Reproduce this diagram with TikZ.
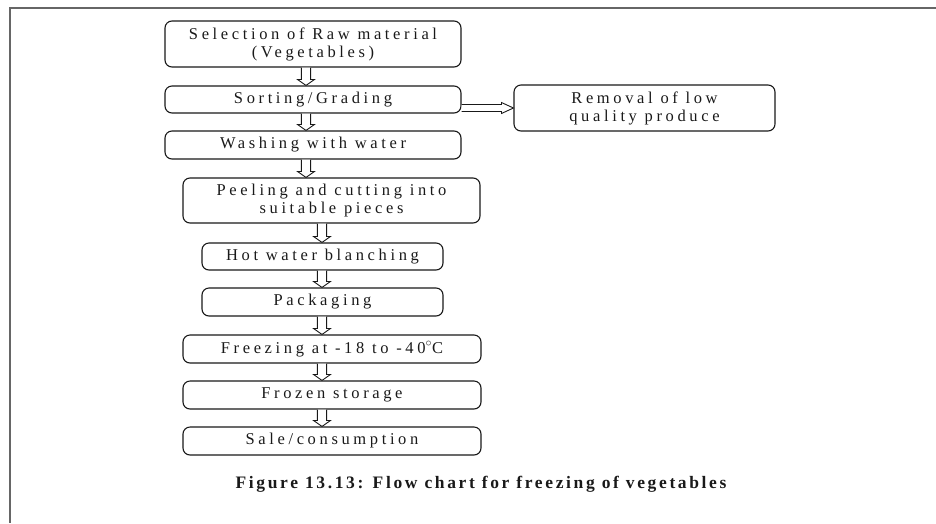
\documentclass[tikz,border=0pt]{standalone}
\usepackage{fontspec}
\setmainfont{Liberation Serif}[LetterSpace=22]
\usetikzlibrary{calc}
\tikzset{
  stepbox/.style={draw=black!90, line width=1.1pt, rounded corners=7pt, inner sep=0pt,
    align=center, text=black!90, font=\fontsize{16.5}{18}\selectfont},
  arr/.style={draw=black!90, line width=0.9pt, fill=white},
  frame/.style={draw=black!60, line width=1.6pt}
}
\newcommand\varrow[3]{%
  \draw[arr] let \p1=(#1.south), \p2=(#2.north), \p3=(#3,0) in
    (\x3-4.6pt,\y1) -- (\x3-4.6pt,\y2+6pt) -- (\x3-8.5pt,\y2+6pt) -- (\x3,\y2)
    -- (\x3+8.5pt,\y2+6pt) -- (\x3+4.6pt,\y2+6pt) -- (\x3+4.6pt,\y1);}
\begin{document}
\begin{tikzpicture}[x=1pt,y=-1pt]
\useasboundingbox (0,0) rectangle (936,523);
\draw[frame] (936,8) -- (10,8) -- (10,523);

\node[stepbox, minimum width=296pt, minimum height=46pt] (b1) at (313,44) {Selection of Raw material\\(Vegetables)};
\node[stepbox, minimum width=296pt, minimum height=27pt] (b2) at (313,99.5) {Sorting/Grading};
\node[stepbox, minimum width=296pt, minimum height=28pt] (b3) at (313,145) {Washing with water};
\node[stepbox, minimum width=297pt, minimum height=45pt] (b4) at (331.5,200.5) {Peeling and cutting into\\suitable pieces};
\node[stepbox, minimum width=241pt, minimum height=27pt] (b5) at (322.5,256.5) {Hot water blanching};
\node[stepbox, minimum width=241pt, minimum height=28pt] (b6) at (322.5,302) {Packaging};
\node[stepbox, minimum width=298pt, minimum height=28pt] (b7) at (332,349) {Freezing at -18 to -40$^{\circ}$C};
\node[stepbox, minimum width=298pt, minimum height=28pt] (b8) at (332,395) {Frozen storage};
\node[stepbox, minimum width=298pt, minimum height=28pt] (b9) at (332,441) {Sale/consumption};
\node[stepbox, minimum width=261pt, minimum height=46pt] (r) at (644.5,108) {Removal of low\\quality produce};

\node[font=\fontsize{17.5}{19}\selectfont\bfseries\addfontfeature{LetterSpace=15}, text=black!90] (cap) at (481,484) {Figure 13.13: Flow chart for freezing of vegetables};

\varrow{b1}{b2}{306}
\varrow{b2}{b3}{306}
\varrow{b3}{b4}{306}
\varrow{b4}{b5}{322}
\varrow{b5}{b6}{322}
\varrow{b6}{b7}{322}
\varrow{b7}{b8}{322}
\varrow{b8}{b9}{322}

\draw[arr] let \p1=(b2.east), \p2=(r.west) in
  (\x1,\y2+3.5pt) -- (\x2-12pt,\y2+3.5pt) -- (\x2-12pt,\y2+5.5pt) -- (\x2,\y2)
  -- (\x2-12pt,\y2-5.5pt) -- (\x2-12pt,\y2-3.5pt) -- (\x1,\y2-3.5pt);
\end{tikzpicture}
\end{document}
